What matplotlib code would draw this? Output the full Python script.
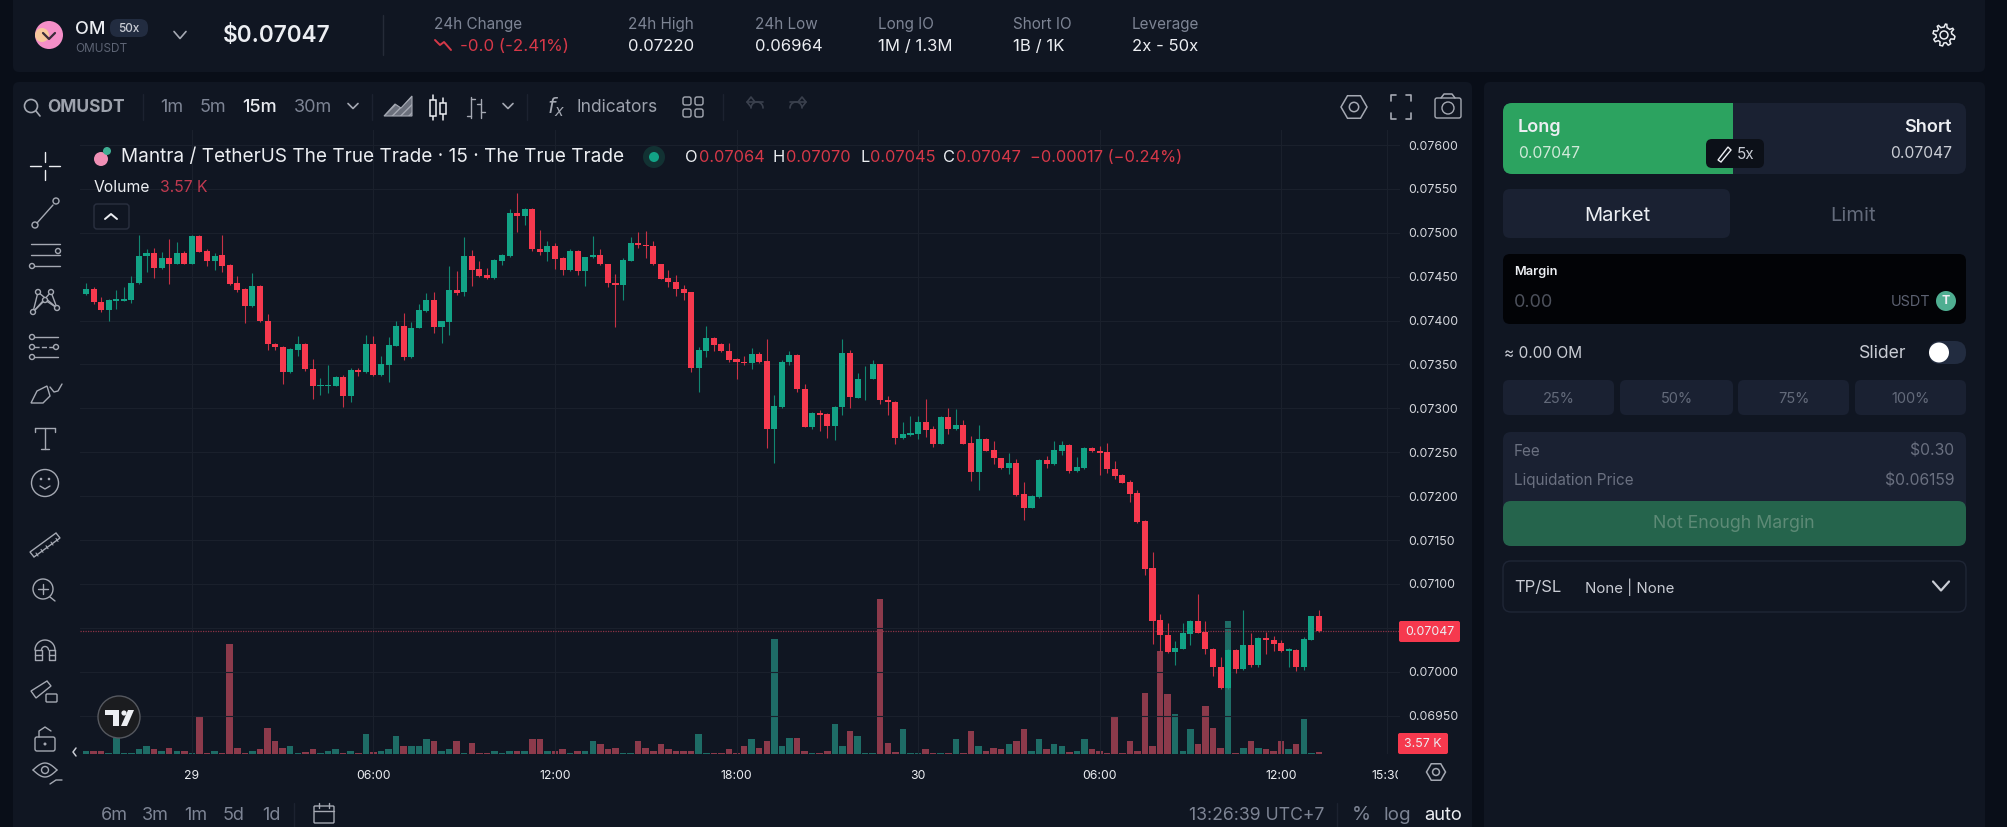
import matplotlib
matplotlib.use('Agg')
import numpy as np
import matplotlib.pyplot as plt
from matplotlib.patches import FancyBboxPatch, Circle, Polygon, Rectangle
from matplotlib.transforms import Bbox

plt.rcParams['font.family'] = ['Inter', 'DejaVu Sans']

# prices in units of 0.00001
opens = [7430,7436,7421,7412,7422,7422,7424,7443,7474,7477,7460,7471,7465,7477,7465,7496,7479,7468,7475,7463,
         7443,7436,7417,7439,7400,7373,7370,7341,7367,7373,7345,7326,7326,7326,7336,7314,7344,7341,7373,7338,
         7349,7371,7394,7359,7392,7411,7424,7393,7398,7435,7432,7474,7459,7452,7448,7468,7474,7522,7519,7527,
         7482,7478,7485,7471,7458,7479,7456,7472,7475,7464,7443,7440,7468,7488,7486,7485,7464,7448,7444,7436,
         7432,7346,7365,7380,7373,7365,7356,7353,7352,7362,7354,7276,7302,7353,7361,7322,7279,7295,7294,7280,
         7302,7363,7312,7333,7334,7350,7310,7307,7266,7270,7271,7285,7276,7260,7290,7276,7281,7261,7228,7265,
         7253,7243,7232,7238,7202,7187,7199,7241,7237,7252,7258,7229,7232,7255,7251,7250,7231,7224,7216,7204,
         7172,7118,7059,7042,7023,7026,7043,7058,7045,7026,7006,6981,7025,7003,7031,7008,7039,7036,7033,7024,
         7025,7005,7036,7064]
highs = [7443,7438,7427,7425,7435,7438,7451,7498,7482,7483,7478,7493,7490,7479,7497,7497,7482,7477,7497,7464,
         7451,7437,7454,7440,7407,7375,7371,7369,7382,7374,7356,7335,7349,7337,7338,7346,7346,7384,7383,7360,
         7381,7400,7409,7398,7419,7431,7433,7400,7462,7456,7495,7480,7468,7460,7470,7476,7527,7545,7528,7528,
         7503,7491,7488,7472,7482,7480,7473,7496,7482,7465,7453,7471,7495,7501,7502,7491,7465,7458,7452,7440,
         7433,7370,7394,7381,7374,7374,7357,7360,7369,7364,7379,7315,7355,7365,7362,7328,7296,7298,7295,7303,
         7379,7366,7340,7348,7355,7351,7314,7308,7284,7291,7291,7311,7280,7291,7300,7299,7287,7268,7281,7266,
         7263,7244,7249,7242,7216,7201,7242,7246,7263,7263,7259,7245,7256,7256,7257,7261,7240,7225,7218,7207,
         7173,7136,7066,7056,7035,7055,7059,7089,7058,7027,7017,7026,7026,7070,7044,7040,7045,7041,7036,7027,
         7026,7040,7064,7070]
lows = [7429,7419,7410,7400,7413,7422,7420,7442,7455,7448,7459,7442,7464,7464,7465,7478,7462,7458,7455,7441,
        7432,7397,7416,7398,7366,7366,7328,7340,7360,7343,7311,7315,7318,7326,7302,7307,7337,7340,7337,7337,
        7330,7371,7355,7357,7391,7410,7386,7375,7384,7429,7428,7439,7450,7447,7447,7463,7473,7501,7509,7479,
        7475,7468,7459,7452,7456,7452,7439,7471,7463,7438,7393,7423,7468,7483,7471,7463,7447,7438,7428,7423,
        7342,7319,7359,7365,7364,7353,7333,7349,7345,7352,7255,7238,7301,7349,7319,7279,7277,7274,7266,7264,
        7292,7301,7312,7310,7333,7305,7293,7260,7265,7268,7265,7267,7256,7260,7271,7275,7259,7217,7207,7251,
        7237,7231,7225,7200,7173,7186,7198,7232,7236,7247,7226,7228,7231,7250,7224,7226,7220,7215,7193,7170,
        7110,7032,7024,7021,7008,7026,7031,7044,7020,6995,6980,6980,6999,7002,7006,7006,7020,7024,7023,7005,
        7001,7002,7036,7045]
closes = [7436,7421,7412,7423,7425,7425,7443,7474,7477,7460,7471,7465,7477,7465,7496,7478,7468,7474,7462,7442,
          7435,7417,7439,7399,7373,7370,7341,7368,7373,7345,7326,7327,7327,7336,7314,7344,7341,7373,7338,7350,
          7372,7394,7359,7392,7412,7424,7393,7399,7435,7431,7474,7458,7451,7448,7469,7475,7522,7519,7527,7481,
          7478,7485,7470,7458,7479,7456,7472,7475,7464,7443,7440,7469,7488,7486,7485,7464,7447,7444,7436,7431,
          7346,7366,7380,7372,7365,7355,7353,7352,7362,7353,7276,7303,7353,7361,7322,7279,7295,7293,7280,7302,
          7363,7313,7333,7334,7350,7309,7307,7266,7271,7272,7285,7275,7259,7290,7276,7281,7260,7228,7265,7252,
          7243,7232,7238,7201,7187,7200,7241,7237,7253,7258,7229,7233,7255,7251,7249,7231,7223,7215,7203,7171,
          7117,7058,7042,7023,7027,7044,7058,7044,7026,7005,6981,7025,7003,7031,7008,7039,7036,7032,7024,7026,
          7005,7037,7063,7047]
# volume in thousands
volumes = [5,5,5,2,38,2,2.4,12,17,12,5,14,7,5,1.2,91,1.2,5,1.2,264,
           14,2.4,5,10,62,31,14,19,1.2,3.6,12,1.2,6,10,2.4,7,2.4,48,3.6,6,
           12,41,17,19,17,36,29,7,12,31,1.2,26,1.2,1.2,7,1.2,7,7,5,36,
           34,7,5,10,1.2,5,7,29,24,12,14,2.4,2.4,29,14,7,24,10,5,5,
           5,48,2.4,1.2,1.2,12,1.2,19,34,14,29,276,17,38,38,5,2.4,2.4,5,72,
           17,55,43,2.4,1.2,370,26,3.6,60,1.2,1.2,12,1.7,1.2,1.2,34,1.2,53,19,6,
           14,12,24,31,58,5,34,12,22,17,3.6,5,34,10,6,2.4,91,2.4,29,5,
           146,19,247,142,94,5,60,24,113,62,14,317,2.4,14,29,14,12,5,29,12,
           22,84,2.4,3.57]

price_ticks = [7600,7550,7500,7450,7400,7350,7300,7250,7200,7150,7100,7050,7000,6950]
time_idx = [15,39,63,87,111,135,159,173]
time_labels = ['29','06:00','12:00','18:00','30','06:00','12:00','15:30']
last_price = 7047

stats = [('24h High','0.07220',628),('24h Low','0.06964',755),('Long IO','1M / 1.3M',878),
         ('Short IO','1B / 1K',1013),('Leverage','2x - 50x',1132)]
intervals = [('1m',160,'#7d8494'),('5m',200,'#7d8494'),('15m',242,'#e8eaf0'),('30m',294,'#7d8494')]
ranges = [('6m',114),('3m',155),('1m',196),('5d',234),('1d',271)]
pcts = [('25%',1503,1614),('50%',1620,1733),('75%',1738,1849),('100%',1855,1966)]

RED, GREEN = '#f6394e', '#12a386'
VRED, VGREEN = '#8c3a4b', '#1e6c66'
W, H = 2007, 827
BG, PANEL, CARD = '#090e18', '#101622', '#1a2132'
GRAY, LIGHT, WHITE = '#7d8494', '#c9ccd4', '#eceef2'
ICON = '#a5a9b3'

fig = plt.figure(figsize=(W/100, H/100), dpi=100, facecolor=BG)
ui = fig.add_axes([0, 0, 1, 1], zorder=0)
ui.set_xlim(0, W)
ui.set_ylim(H, 0)
ui.axis('off')


def box(x0, y0, x1, y1, fc, r=6, ec='none', ax=ui, zo=1, lw=1):
    ax.add_patch(FancyBboxPatch((x0, y0), x1-x0, y1-y0, boxstyle=f'round,pad=0,rounding_size={r}',
                                fc=fc, ec=ec, lw=lw, zorder=zo))


def txt(x, y, s, size=9.5, color=WHITE, ha='left', weight='normal', ax=ui, zo=5, **kw):
    return ax.text(x, y+1.5, s, fontsize=size, color=color, ha=ha, va='center', weight=weight, zorder=zo, **kw)


def line(xs, ys, color=ICON, lw=1.0, ax=ui, zo=5, **kw):
    ax.plot(xs, ys, color=color, lw=lw, zorder=zo, solid_capstyle='round', **kw)


def ring(x, y, r, color=ICON, lw=1.0, fc='none', ax=ui, zo=5):
    ax.add_patch(Circle((x, y), r, fc=fc, ec=color, lw=lw, zorder=zo))


def arc(x, y, r, a0, a1, color=ICON, lw=1.0):
    t = np.radians(np.linspace(a0, a1, 30))
    line(x+r*np.cos(t), y+r*np.sin(t), color, lw)


def chevron(x, y, w, h, color=ICON, lw=1.2):
    line([x-w, x, x+w], [y-h, y+h, y-h], color, lw)


def hexagon(x, y, r, lw=1.1):
    a = np.radians(np.arange(0, 360, 60))
    ui.add_patch(Polygon(np.c_[x+r*np.cos(a), y+r*np.sin(a)], fc='none', ec=ICON, lw=lw, zorder=5))
    ring(x, y, r*0.36, lw=lw)


def gear(x, y, r):
    a = np.radians(np.arange(0, 360, 7.5))
    rad = r*(0.86+0.14*np.sign(np.sin(np.radians(np.arange(0, 360, 7.5))*8)))
    ui.add_patch(Polygon(np.c_[x+rad*np.cos(a), y+rad*np.sin(a)], fc='none', ec=WHITE, lw=1.1, zorder=5))
    ring(x, y, r*0.36, WHITE, 1.1)


# panels
box(13, -10, 1985, 72, PANEL)
box(13, 82, 1472, 860, PANEL)
box(1484, 82, 1985, 860, PANEL)

# header
ui.add_patch(Circle((49, 35), 14, fc='#f58fc8', zorder=3))
ui.add_patch(Circle((42, 35), 7, fc='#f7c79c', zorder=3))
line([43, 49, 55], [33, 39, 33], '#3a2a3a', 1.6)
txt(75, 28, 'OM', 13, WHITE, weight='medium')
box(110, 19, 148, 37, '#222c40', 8)
txt(129, 27, '50x', 8.5, LIGHT, 'center', weight='medium')
txt(75, 48, 'OMUSDT', 8.5, '#5d6474')
chevron(180, 35, 6, 3.5)
txt(223, 34, '$0.07047', 16.3, WHITE, weight='semibold')
line([383, 383], [15, 55], '#252b38', 1)
txt(434, 23, '24h Change', 11, GRAY)
line([435, 440, 444, 451], [40, 45, 42, 50], '#d63848', 1.4)
txt(460, 45, '-0.0 (-2.41%)', 12.2, '#d63848')
for name, val, x in stats:
    txt(x, 23, name, 11, GRAY)
    txt(x, 45, val, 12, WHITE)
gear(1944, 35, 11)

# toolbar
ring(31, 106, 6.5, ICON, 1.2)
line([36, 40], [111, 116], ICON, 1.2)
txt(47, 106, 'OMUSDT', 12.5, '#9da2ad', weight='bold')
line([143, 143], [94, 120], '#1c2230', 1)
for name, x, c in intervals:
    txt(x, 106, name, 13, c, weight='medium' if name == '15m' else 'normal')
chevron(353, 106, 5, 2.5)
line([372, 372], [94, 120], '#1c2230', 1)
ui.add_patch(Polygon([[384, 116], [395, 104], [401, 108], [412, 96], [412, 116]], fc='#6b707c', ec=ICON, lw=0.8, hatch='////', zorder=5))
# candle icons
for x, y0, y1, w0, w1 in [(433, 100, 116, 95, 120), (443, 103, 114, 98, 120)]:
    line([x, x], [w0, w1], WHITE, 1.1)
    ui.add_patch(Rectangle((x-3, y0), 6, y1-y0, fc=PANEL, ec=WHITE, lw=1.1, zorder=6))
line([471, 471], [97, 118], ICON, 1)
line([467, 471], [116, 116], ICON, 1)
line([471, 475], [99, 99], ICON, 1)
line([481, 481], [99, 118], ICON, 1)
line([477, 481], [104, 104], ICON, 1)
line([481, 485], [112, 112], ICON, 1)
chevron(508, 106, 5, 2.5)
line([527, 527], [94, 120], '#1c2230', 1)
txt(547, 106, '$f_x$', 15, ICON)
txt(576, 106, 'Indicators', 12.5, '#9da2ad')
for x, y in [(683, 97), (695, 97), (683, 109), (695, 109)]:
    box(x, y, x+8, y+8, 'none', 2, ICON)
line([723, 723], [94, 120], '#1c2230', 1)
arc(757, 108, 6, 180, 360, '#3a404d', 1.2)
line([751, 747, 751, 755], [107, 102, 97, 102], '#3a404d', 1.2)
line([747, 763], [102, 102], '#3a404d', 1.2)
arc(796, 108, 6, 180, 360, '#3a404d', 1.2)
line([802, 806, 802, 798], [107, 102, 97, 102], '#3a404d', 1.2)
line([790, 806], [102, 102], '#3a404d', 1.2)
hexagon(1354, 107, 13)
for sx, sy in [(-1, -1), (1, -1), (-1, 1), (1, 1)]:
    line([1401+sx*10, 1401+sx*10, 1401+sx*5], [107+sy*6, 107+sy*12, 107+sy*12], ICON, 1.2)
box(1435, 98, 1461, 118, 'none', 2, ICON)
line([1441, 1444, 1452, 1455], [98, 94, 94, 98], ICON, 1.1)
ring(1448, 108, 6)

# left drawing tools
line([30, 41], [166, 166], WHITE, 1)
line([49, 60], [166, 166], WHITE, 1)
line([45, 45], [152, 162], WHITE, 1)
line([45, 45], [170, 180], WHITE, 1)
line([37, 53], [223, 205], ICON)
ring(35, 225, 3)
ring(56, 201, 3)
for y in [244, 255, 266]:
    line([31, 60], [y, y], ICON)
ring(58, 251, 2.5, fc=PANEL)
ring(32, 266, 2.5, fc=PANEL)
pts = np.array([[38, 292], [33, 312], [45, 300], [57, 308], [51, 292]])
line(pts[:, 0], pts[:, 1], ICON)
line([33, 51], [312, 292], ICON)
line([38, 57], [292, 308], ICON)
for p in pts:
    ring(p[0], p[1], 2.5, fc=PANEL)
for y, d in [(337, '-'), (347, '--'), (357, '-')]:
    line([34, 58], [y, y], ICON, ls=d)
    ring(32, y, 2.5, fc=PANEL)
ring(56, 347, 2.5, fc=PANEL)
ui.add_patch(Polygon([[31, 403], [37, 391], [47, 386], [50, 396], [43, 403]], fc='none', ec=ICON, lw=1, zorder=5))
line([50, 54, 58, 62], [387, 392, 391, 384], ICON)
line([35, 55], [428, 428], ICON)
line([45, 45], [428, 449], ICON)
line([41, 49], [449, 449], ICON)
line([35, 35], [428, 432], ICON)
line([55, 55], [428, 432], ICON)
ring(45, 483, 13.5)
line([40, 45, 50], [486, 489, 486], ICON)
ring(41, 479, 0.6)
ring(49, 479, 0.6)
ui.add_patch(Polygon([[30, 552], [56, 533], [60, 538], [34, 557]], fc='none', ec=ICON, lw=1, zorder=5))
for t in [36, 41, 46, 51, 56]:
    line([t, t+2], [553-(t-36)*0.73, 556-(t-36)*0.73], ICON, 0.8)
ring(43, 589, 10)
line([38, 48], [589, 589], ICON)
line([43, 43], [584, 594], ICON)
line([50, 55], [597, 601], ICON)
arc(45, 650, 10, 180, 360)
arc(45, 650, 3.5, 180, 360)
line([35, 35, 41.5, 41.5, 35], [650, 660, 660, 650, 650], ICON)
line([55, 55, 48.5, 48.5, 55], [650, 660, 660, 650, 650], ICON)
line([35, 41.5], [655, 655], ICON)
line([48.5, 55], [655, 655], ICON)
ui.add_patch(Polygon([[31, 691], [47, 681], [51, 686], [36, 698]], fc='none', ec=ICON, lw=1, zorder=5))
box(46, 694, 57, 702, 'none', 1, ICON)
box(35, 737, 55, 751, 'none', 2, ICON)
line([39, 39, 45, 51], [737, 731, 727, 731], ICON)
ring(45, 744, 0.8)
t = np.linspace(33, 57, 30)
line(t, 770-7*np.sin((t-33)/24*np.pi), ICON)
line(t, 770+7*np.sin((t-33)/24*np.pi), ICON)
ring(45, 770, 3.5)
line([50, 56, 62], [784, 780, 780], ICON)
line([76, 73, 76], [748, 752, 756], LIGHT, 1.1)

# chart axes, placed so that the scales land on the same pixels
left, right, top, bottom = 80, 1400, 130, 753.5
ax = fig.add_axes([left/W, 1-bottom/H, (right-left)/W, (bottom-top)/H], zorder=2)
ax.patch.set_alpha(0)
px_per_bar = 7.564
ax.set_xlim(1+(left-86)/px_per_bar, 1+(right-86)/px_per_bar)
ax.set_ylim((7600-(bottom-145)*1.139)/1e5, (7600+(145-top)*1.139)/1e5)

idx = np.arange(1, len(opens)+1)
o, h, l, c = [np.array(a)/1e5 for a in (opens, highs, lows, closes)]
up = c >= o
cols = np.where(up, GREEN, RED)

vax = ax.twinx()
vax.set_zorder(1)
ax.set_zorder(2)
vax.set_ylim(0, (bottom-top)*2.4)
vax.bar(idx, volumes, width=0.86, color=np.where(up, VGREEN, VRED), zorder=2)
vax.axis('off')

ax.vlines(idx, l, h, colors=cols, lw=0.8, zorder=3, alpha=0.8)
ax.bar(idx, np.abs(c-o), bottom=np.minimum(o, c), width=0.8, color=cols, zorder=4)

ax.axhline(last_price/1e5, color='#8a3345', lw=0.9, ls=(0, (1, 1)), zorder=2)

ax.yaxis.tick_right()
ax.set_yticks([t/1e5 for t in price_ticks])
# the 0.07050 label sits under the last price tag
ax.set_yticklabels(['' if t == 7050 else f'{t/1e5:.5f}' for t in price_ticks], color='#d5d7dd', fontsize=8.9)
ax.set_xticks(time_idx)
ax.set_xticklabels(time_labels, color=WHITE, fontsize=8.8)
ax.tick_params(length=0, pad=0)
ax.tick_params(axis='x', pad=12)
ax.tick_params(axis='y', pad=6)
ax.grid(color='#1a202c', lw=0.8)
ax.set_axisbelow(True)
for s in ax.spines.values():
    s.set_visible(False)
lab = ax.get_xticklabels()[-1]
lab.set_clip_on(True)
lab.set_clip_box(Bbox([[0, 0], [1398, H]]))

# legend
over = fig.add_axes([0, 0, 1, 1], zorder=3)
over.set_xlim(0, W)
over.set_ylim(H, 0)
over.axis('off')
over.add_patch(Circle((101, 159), 7, fc='#ef8fb5', zorder=3))
over.add_patch(Circle((107, 151), 4, fc='#3fae93', zorder=3))
txt(121, 155.5, 'Mantra / TetherUS The True Trade · 15 · The True Trade', 13.7, WHITE, ax=over)
over.add_patch(Circle((654, 157), 11, fc='#123233', zorder=3))
over.add_patch(Circle((654, 157), 5, fc=GREEN, zorder=4))
for lbl, lx, val, vx in [('O', 685, '0.07064', 699), ('H', 773, '0.07070', 786), ('L', 860, '0.07045', 870), ('C', 943, '0.07047', 956)]:
    txt(lx, 155.5, lbl, 11.8, WHITE, ax=over)
    txt(vx, 155.5, val, 11.8, '#d63848', ax=over)
txt(1030, 155.5, '−0.00017 (−0.24%)', 11.8, '#d63848', ax=over)
txt(94, 185.5, 'Volume', 11.3, WHITE, ax=over)
txt(160, 185.5, '3.57 K', 11.3, '#c03a50', ax=over)
box(94, 204, 129, 229, PANEL, 3, '#2a3040', ax=over)
line([105, 111, 117], [219, 214, 219], WHITE, 1.4, ax=over)

# price tags
box(1399, 621, 1460, 642, '#f6394e', 2, ax=over)
txt(1429.5, 630.5, '0.07047', 8.9, WHITE, 'center', ax=over)
box(1398, 733, 1448, 754, '#f6394e', 2, ax=over)
txt(1423, 742.5, '3.57 K', 8.9, WHITE, 'center', ax=over)

# tradingview badge
over.add_patch(Circle((119, 717), 21, fc='#1b1c1f', ec='#55585f', lw=1, zorder=4))
over.add_patch(Polygon([[105, 710], [119, 710], [119, 726], [113, 726], [113, 715], [105, 715]], fc=WHITE, zorder=5))
over.add_patch(Circle((124, 713), 2.6, fc=WHITE, zorder=5))
over.add_patch(Polygon([[128, 710], [134, 710], [127, 726], [121, 726]], fc=WHITE, zorder=5))

# bottom row
hexagon(1436, 772, 9.5)
for name, x in ranges:
    txt(x, 813.5, name, 13, GRAY, 'center')
line([294, 294], [803, 827], '#1c2230', 1)
box(314, 806, 334, 823, 'none', 1, ICON)
line([314, 334], [811, 811], ICON)
line([319, 319], [803, 808], ICON)
line([329, 329], [803, 808], ICON)
txt(1324, 813.5, '13:26:39 UTC+7', 12.7, GRAY, 'right')
line([1337, 1337], [803, 827], '#1c2230', 1)
txt(1361, 813.5, '%', 14, GRAY, 'center')
txt(1397, 813.5, 'log', 13.5, GRAY, 'center')
txt(1443, 813.5, 'auto', 13.2, WHITE, 'center')

# order panel
box(1503, 103, 1966, 174, CARD, 9)
box(1503, 103, 1733, 174, '#2ca360', 9)
ui.add_patch(Rectangle((1720, 103), 13, 71, fc='#2ca360', zorder=2))
txt(1518, 126, 'Long', 13, WHITE, weight='semibold')
txt(1518, 152.5, '0.07047', 11.3, '#cfe9d8')
txt(1952, 126, 'Short', 13, WHITE, 'right', weight='semibold')
txt(1952, 152.5, '0.07047', 11.3, LIGHT, 'right')
box(1706, 139, 1764, 168, '#0c1018', 6, zo=3)
ui.add_patch(Polygon([[1718, 160], [1728, 147], [1731, 150], [1721, 162]], fc='none', ec=WHITE, lw=1, zorder=5))
txt(1737, 153, '5x', 11, LIGHT)

box(1503, 189, 1730, 238, CARD, 7)
txt(1617, 214.5, 'Market', 14.5, WHITE, 'center')
txt(1853, 214.5, 'Limit', 14.5, '#636a7a', 'center')

box(1503, 254, 1966, 324, '#020306', 7)
txt(1514, 270.5, 'Margin', 9.2, WHITE, weight='semibold')
txt(1514, 301, '0.00', 13, '#4d515c')
txt(1930, 301, 'USDT', 10.4, '#5d6272', 'right')
ui.add_patch(Circle((1946, 301), 10, fc='#4fae91', zorder=3))
txt(1946, 299.5, 'T', 9, WHITE, 'center', weight='bold')

txt(1504, 352, '≈ 0.00 OM', 11.1, LIGHT)
txt(1906, 352, 'Slider', 12.7, LIGHT, 'right')
box(1929, 341, 1966, 364, '#222c40', 11)
ui.add_patch(Circle((1939, 352.5), 10, fc='white', zorder=3))

for name, x0, x1 in pcts:
    box(x0, 380, x1, 415, CARD, 6)
    txt((x0+x1)/2, 397.5, name, 10.5, '#636a7a', 'center')

box(1503, 432, 1966, 546, CARD, 8)
txt(1514, 449.5, 'Fee', 11, '#6a7080')
txt(1514, 479.5, 'Liquidation Price', 11, '#6a7080')
txt(1954, 449.5, '$0.30', 11.3, '#6a7080', 'right')
txt(1954, 479.5, '$0.06159', 11.3, '#6a7080', 'right')
box(1503, 501, 1966, 546, '#25644c', 8, zo=2)
txt(1734, 522.5, 'Not Enough Margin', 12.8, '#5d8a76', 'center')

box(1503, 561, 1966, 612, 'none', 8, '#1f2636')
txt(1514, 585.5, 'TP/SL', 12, LIGHT)
txt(1585, 585.5, 'None | None', 10.8, LIGHT)
chevron(1941, 586, 8, 4.5, LIGHT, 1.6)

fig.savefig('out.png', dpi=100, facecolor=BG)
